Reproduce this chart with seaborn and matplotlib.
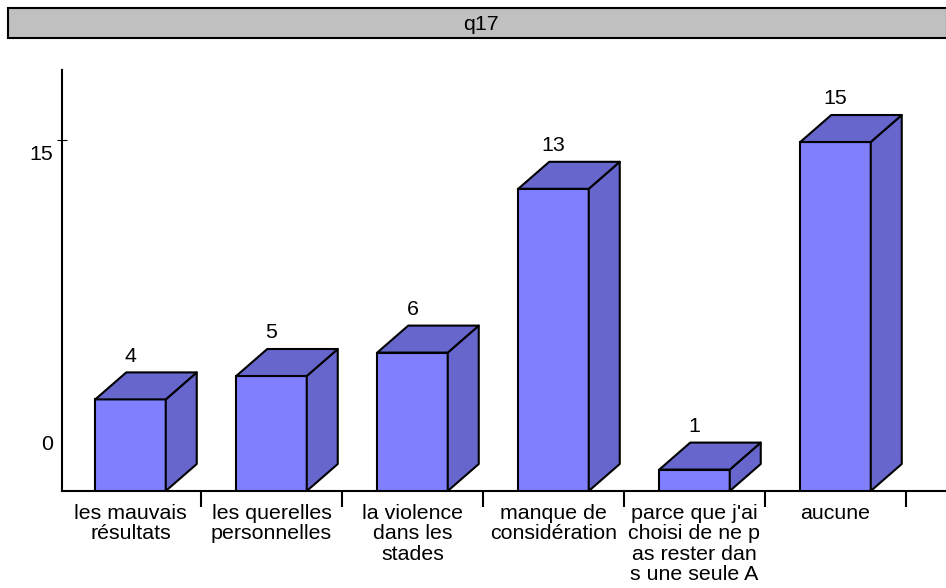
import matplotlib
matplotlib.use("Agg")
import matplotlib.pyplot as plt
from matplotlib.patches import Polygon, Rectangle
import numpy as np
import pandas as pd
import seaborn as sns

#Chart data
categories = ["les mauvais\nrésultats", "les querelles\npersonnelles", "la violence\ndans les\nstades",
              "manque de\nconsidération", "parce que j'ai\nchoisi de ne p\nas rester dan\ns une seule A", "aucune"]
counts = [4, 5, 6, 13, 1, 15]
title = "q17"

#Style
sns.set_theme(style="white")
plt.rcParams["font.family"] = ["Liberation Sans", "DejaVu Sans"]
front_color = "#8080FF"
side_color = "#6666CC"
font_size = 15.4
edge_width = 1.5
W, H = 946, 588

df = pd.DataFrame({"category": categories, "count": counts})

fig = plt.figure(figsize=(W / 100, H / 100), dpi=100)
ax = fig.add_axes([62 / W, 1 - 491 / H, (W - 62) / W, (491 - 70) / H])

#Front faces
sns.barplot(data=df, x="category", y="count", color=front_color, saturation=1, width=0.5,
            edgecolor="black", linewidth=edge_width, ax=ax)

#Scales
x_scale = 141
y_scale = 23.4
y_min = 2 / y_scale
ax.set_xlim((62 - 130.5) / x_scale, (W - 130.5) / x_scale)
ax.set_ylim(y_min, y_min + (491 - 70) / y_scale)
depth_x = 31 / x_scale
depth_y = 27 / y_scale

#Side and top faces of every bar
for bar in ax.patches[:len(counts)]:
    x0 = bar.get_x()
    x1 = x0 + bar.get_width()
    top = bar.get_height()
    side = [(x1, y_min), (x1 + depth_x, y_min + depth_y), (x1 + depth_x, top + depth_y), (x1, top)]
    roof = [(x0, top), (x0 + depth_x, top + depth_y), (x1 + depth_x, top + depth_y), (x1, top)]
    for face in (side, roof):
        ax.add_patch(Polygon(face, closed=True, facecolor=side_color, edgecolor="black",
                             linewidth=edge_width, joinstyle="round", zorder=1.5))

#Value labels
for i, value in enumerate(counts):
    ax.annotate(str(value), (i, value), xytext=(0, 31), textcoords="offset points",
                ha="center", va="center", fontsize=font_size, color="black")

#Axes
sns.despine(ax=ax)
for name in ["left", "bottom"]:
    ax.spines[name].set_color("black")
    ax.spines[name].set_linewidth(edge_width)
ax.set_xlabel("")
ax.set_ylabel("")
ax.set_xticks(range(len(categories)), categories, fontsize=font_size, linespacing=1.08, color="black")
ax.set_xticks(np.arange(len(categories)) + 0.5, minor=True)
ax.tick_params(axis="x", which="major", bottom=False, pad=3.5)
ax.tick_params(axis="x", which="minor", bottom=True, direction="out", length=11.5, width=edge_width, color="black")
ax.set_yticks([15.08], [""])
ax.tick_params(axis="y", left=True, direction="inout", length=7.2, width=0.8, color="black")

#Y labels sit away from their ticks in the original
fig.text(53 / W, 1 - 154 / H, "15", ha="right", va="center", fontsize=font_size, color="black")
fig.text(53 / W, 1 - 444 / H, "0", ha="right", va="center", fontsize=font_size, color="black")

#Title band
fig.add_artist(Rectangle((7.5 / W, 1 - 37.5 / H), (W - 7) / W, 29.5 / H, transform=fig.transFigure,
                         facecolor="#C0C0C0", edgecolor="black", linewidth=edge_width))
fig.text(481 / W, 1 - 25 / H, title, ha="center", va="center", fontsize=font_size, color="black")

fig.savefig("out.png", dpi=100)
